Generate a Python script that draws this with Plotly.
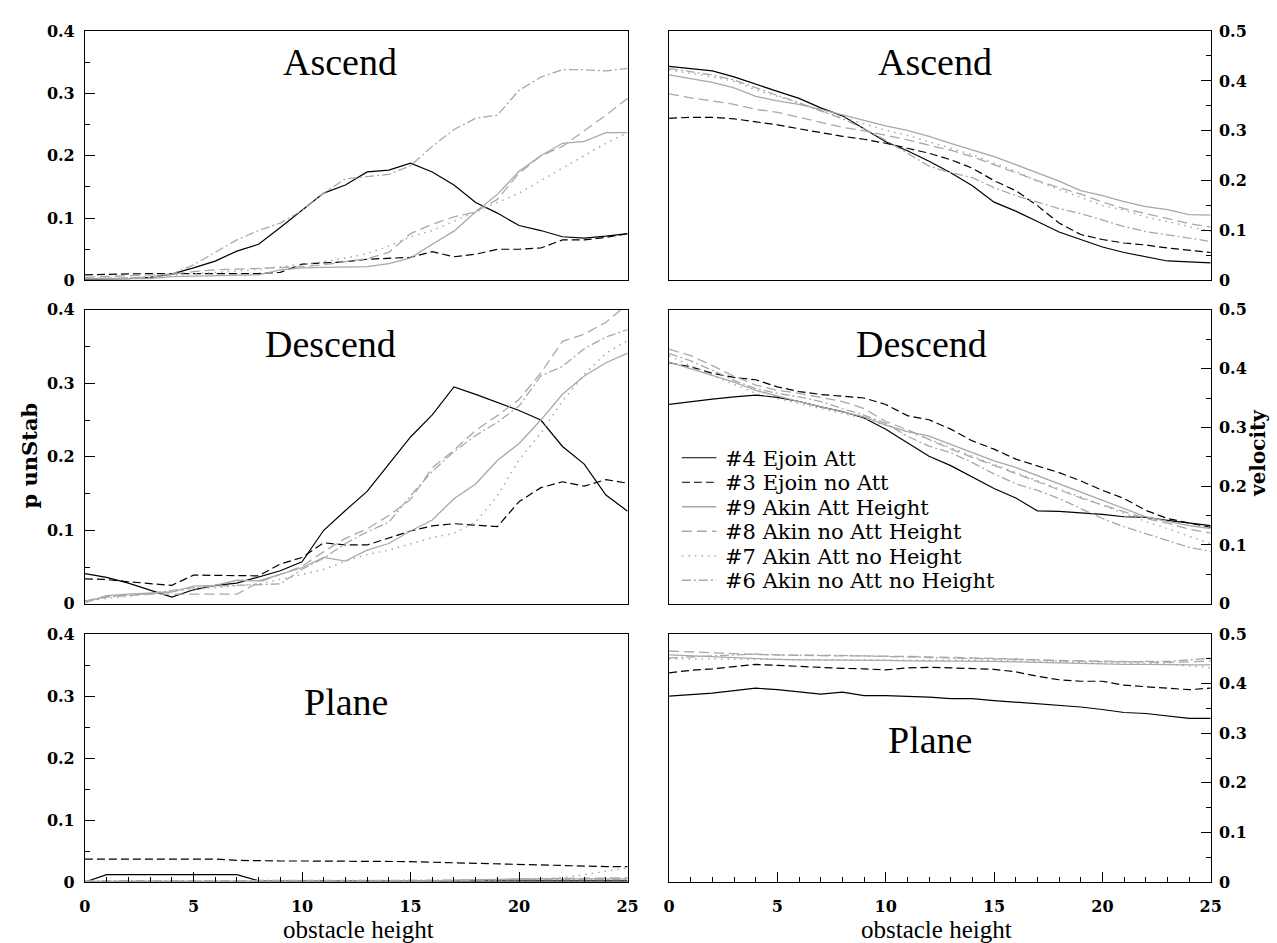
import plotly.graph_objects as go

W, H = 1277, 943

X = [0, 1, 2, 3, 4, 5, 6, 7, 8, 9, 10, 11, 12, 13, 14, 15, 16, 17, 18, 19, 20, 21, 22, 23, 24, 25]

SERIES_NAMES = ["#4 Ejoin Att", "#3 Ejoin no Att", "#9 Akin Att Height",
                "#8 Akin no Att Height", "#7 Akin Att no Height", "#6 Akin no Att no Height"]
PANEL_TITLES = ["Ascend", "Ascend", "Descend", "Descend", "Plane", "Plane"]
X_TICKS = [0, 5, 10, 15, 20, 25]
P_TICKS = [0, 0.1, 0.2, 0.3, 0.4]
P_TICKTEXT = ["0", "0.1", "0.2", "0.3", "0.4"]
V_TICKS = [0, 0.1, 0.2, 0.3, 0.4, 0.5]
V_TICKTEXT = ["0", "0.1", "0.2", "0.3", "0.4", "0.5"]

# ---- Ascend, p unStab
A_P4 = [0.002,0.002,0.003,0.005,0.010,0.020,0.031,0.047,0.058,0.085,0.113,0.140,0.153,0.174,0.177,0.188,0.174,0.153,0.125,0.108,0.088,0.080,0.070,0.068,0.071,0.075]
A_P3 = [0.009,0.010,0.010,0.011,0.011,0.011,0.011,0.011,0.011,0.013,0.026,0.028,0.030,0.034,0.036,0.037,0.046,0.038,0.042,0.050,0.050,0.052,0.065,0.065,0.069,0.075]
A_P9 = [0.003,0.003,0.003,0.003,0.006,0.007,0.008,0.008,0.009,0.017,0.020,0.021,0.021,0.022,0.027,0.036,0.058,0.079,0.110,0.138,0.175,0.200,0.220,0.223,0.237,0.237]
A_P8 = [0.005,0.006,0.007,0.008,0.010,0.014,0.017,0.018,0.019,0.020,0.022,0.025,0.030,0.035,0.045,0.075,0.090,0.102,0.110,0.130,0.172,0.200,0.215,0.240,0.265,0.292]
A_P7 = [0.003,0.003,0.004,0.006,0.008,0.010,0.012,0.015,0.018,0.022,0.027,0.030,0.036,0.043,0.055,0.070,0.080,0.095,0.110,0.125,0.140,0.160,0.180,0.200,0.220,0.237]
A_P6 = [0.003,0.003,0.004,0.005,0.010,0.025,0.045,0.065,0.080,0.092,0.112,0.140,0.163,0.166,0.170,0.184,0.215,0.242,0.260,0.265,0.305,0.326,0.338,0.338,0.336,0.340]

# ---- Ascend, velocity
A_V4 = [0.429,0.425,0.420,0.408,0.393,0.379,0.365,0.346,0.330,0.304,0.278,0.260,0.239,0.216,0.190,0.157,0.139,0.118,0.097,0.082,0.067,0.056,0.048,0.039,0.037,0.035]
A_V3 = [0.325,0.327,0.327,0.324,0.318,0.312,0.304,0.296,0.289,0.283,0.275,0.265,0.255,0.242,0.225,0.200,0.180,0.150,0.115,0.092,0.082,0.075,0.071,0.065,0.061,0.056]
A_V9 = [0.412,0.405,0.397,0.386,0.369,0.360,0.353,0.343,0.332,0.320,0.310,0.301,0.289,0.275,0.261,0.248,0.232,0.216,0.199,0.180,0.170,0.158,0.148,0.142,0.132,0.131]
A_V8 = [0.374,0.366,0.360,0.353,0.343,0.337,0.327,0.317,0.307,0.300,0.291,0.282,0.271,0.261,0.248,0.232,0.216,0.200,0.186,0.173,0.157,0.144,0.134,0.124,0.114,0.107]
A_V7 = [0.422,0.415,0.408,0.399,0.382,0.369,0.356,0.340,0.327,0.314,0.301,0.291,0.278,0.265,0.252,0.235,0.219,0.199,0.183,0.167,0.150,0.141,0.127,0.118,0.108,0.098]
A_V6 = [0.425,0.418,0.412,0.402,0.386,0.371,0.356,0.340,0.324,0.304,0.281,0.255,0.229,0.216,0.206,0.186,0.170,0.157,0.144,0.134,0.121,0.108,0.098,0.092,0.085,0.078]

# ---- Descend, p unStab
D_P4 = [0.041,0.036,0.028,0.019,0.009,0.019,0.025,0.028,0.037,0.045,0.057,0.100,0.127,0.153,0.190,0.227,0.257,0.295,0.285,0.274,0.263,0.250,0.214,0.190,0.148,0.126]
D_P3 = [0.034,0.033,0.030,0.028,0.025,0.039,0.039,0.038,0.038,0.054,0.063,0.083,0.080,0.080,0.089,0.099,0.106,0.109,0.107,0.105,0.139,0.158,0.166,0.160,0.169,0.164]
D_P9 = [0.002,0.011,0.013,0.014,0.016,0.024,0.025,0.032,0.031,0.040,0.049,0.063,0.058,0.073,0.082,0.099,0.114,0.143,0.163,0.195,0.218,0.250,0.285,0.310,0.328,0.341]
D_P8 = [0.004,0.010,0.011,0.013,0.013,0.013,0.013,0.013,0.029,0.040,0.051,0.071,0.089,0.102,0.120,0.142,0.185,0.209,0.236,0.256,0.278,0.314,0.357,0.367,0.383,0.408]
D_P7 = [0.004,0.007,0.011,0.013,0.017,0.020,0.022,0.024,0.027,0.033,0.040,0.047,0.058,0.067,0.073,0.082,0.090,0.096,0.111,0.147,0.196,0.232,0.276,0.312,0.341,0.358]
D_P6 = [0.002,0.009,0.012,0.014,0.018,0.022,0.024,0.025,0.026,0.027,0.047,0.062,0.082,0.098,0.111,0.147,0.180,0.207,0.229,0.247,0.269,0.310,0.323,0.347,0.363,0.373]

# ---- Descend, velocity
D_V4 = [0.339,0.344,0.348,0.352,0.355,0.351,0.344,0.335,0.327,0.316,0.297,0.274,0.251,0.235,0.215,0.196,0.180,0.158,0.157,0.155,0.152,0.148,0.147,0.142,0.138,0.133]
D_V3 = [0.410,0.403,0.392,0.385,0.381,0.369,0.361,0.356,0.353,0.350,0.339,0.320,0.313,0.297,0.277,0.263,0.246,0.235,0.223,0.209,0.193,0.179,0.159,0.145,0.137,0.130]
D_V9 = [0.411,0.400,0.388,0.377,0.363,0.353,0.344,0.335,0.327,0.318,0.304,0.293,0.285,0.271,0.257,0.243,0.232,0.218,0.204,0.190,0.176,0.162,0.148,0.140,0.133,0.128]
D_V8 = [0.433,0.422,0.405,0.387,0.372,0.363,0.358,0.351,0.344,0.332,0.310,0.296,0.279,0.263,0.249,0.235,0.221,0.207,0.193,0.180,0.168,0.156,0.145,0.137,0.127,0.120]
D_V7 = [0.422,0.405,0.388,0.373,0.358,0.349,0.340,0.332,0.324,0.315,0.304,0.293,0.280,0.265,0.251,0.237,0.223,0.209,0.196,0.182,0.168,0.154,0.140,0.128,0.115,0.102]
D_V6 = [0.426,0.413,0.397,0.380,0.366,0.358,0.352,0.344,0.332,0.321,0.307,0.285,0.268,0.257,0.240,0.221,0.204,0.193,0.179,0.162,0.145,0.131,0.119,0.107,0.096,0.089]

# ---- Plane, p unStab
P_P4 = [0.000,0.012,0.012,0.012,0.012,0.012,0.012,0.012,0.002,0.002,0.002,0.002,0.002,0.002,0.002,0.002,0.002,0.002,0.002,0.002,0.002,0.002,0.002,0.002,0.002,0.002]
P_P3 = [0.037,0.037,0.037,0.037,0.037,0.037,0.037,0.035,0.034,0.034,0.034,0.034,0.034,0.034,0.033,0.033,0.032,0.031,0.030,0.029,0.029,0.028,0.027,0.026,0.025,0.025]
P_P9 = [0.001,0.001,0.001,0.001,0.001,0.001,0.001,0.001,0.001,0.001,0.001,0.001,0.001,0.001,0.001,0.001,0.002,0.003,0.004,0.005,0.005,0.005,0.005,0.005,0.005,0.005]
P_P8 = [0.001,0.001,0.001,0.001,0.001,0.001,0.001,0.001,0.001,0.001,0.001,0.001,0.001,0.001,0.001,0.001,0.001,0.002,0.003,0.004,0.005,0.006,0.006,0.006,0.007,0.007]
P_P7 = [0.000,0.000,0.000,0.000,0.000,0.000,0.000,0.000,0.000,0.000,0.000,0.000,0.000,0.001,0.001,0.001,0.002,0.002,0.003,0.003,0.004,0.005,0.007,0.012,0.018,0.023]
P_P6 = [0.002,0.002,0.002,0.002,0.002,0.002,0.002,0.002,0.002,0.002,0.002,0.002,0.002,0.002,0.002,0.002,0.003,0.003,0.004,0.004,0.004,0.004,0.004,0.004,0.004,0.004]

# ---- Plane, velocity
P_V4 = [0.375,0.378,0.381,0.386,0.391,0.388,0.383,0.379,0.383,0.376,0.376,0.375,0.373,0.370,0.370,0.366,0.363,0.359,0.356,0.353,0.348,0.342,0.340,0.335,0.330,0.330]
P_V3 = [0.422,0.427,0.430,0.435,0.439,0.437,0.435,0.432,0.431,0.430,0.428,0.432,0.433,0.432,0.430,0.429,0.424,0.415,0.408,0.405,0.405,0.397,0.394,0.391,0.388,0.391]
P_V9 = [0.458,0.456,0.454,0.452,0.450,0.449,0.448,0.448,0.447,0.447,0.447,0.446,0.446,0.446,0.445,0.445,0.444,0.443,0.442,0.440,0.440,0.439,0.439,0.438,0.438,0.438]
P_V8 = [0.466,0.464,0.462,0.460,0.459,0.458,0.457,0.457,0.456,0.456,0.456,0.455,0.454,0.453,0.452,0.452,0.450,0.448,0.447,0.446,0.445,0.444,0.443,0.443,0.444,0.446]
P_V7 = [0.450,0.450,0.450,0.449,0.449,0.449,0.449,0.448,0.448,0.448,0.448,0.448,0.447,0.447,0.447,0.447,0.446,0.445,0.444,0.443,0.443,0.442,0.441,0.440,0.436,0.432]
P_V6 = [0.452,0.454,0.455,0.457,0.460,0.458,0.458,0.457,0.457,0.456,0.455,0.454,0.453,0.452,0.452,0.451,0.449,0.448,0.446,0.445,0.444,0.444,0.445,0.445,0.448,0.452]

PANELS = [
    [A_P4, A_P3, A_P9, A_P8, A_P7, A_P6],
    [A_V4, A_V3, A_V9, A_V8, A_V7, A_V6],
    [D_P4, D_P3, D_P9, D_P8, D_P7, D_P6],
    [D_V4, D_V3, D_V9, D_V8, D_V7, D_V6],
    [P_P4, P_P3, P_P9, P_P8, P_P7, P_P6],
    [P_V4, P_V3, P_V9, P_V8, P_V7, P_V6],
]

GRAY = "#a8a8a8"
STYLES = [
    dict(color="black", dash="solid", width=1.2),
    dict(color="black", dash="8px,4px", width=1.2),
    dict(color=GRAY, dash="solid", width=1.3),
    dict(color=GRAY, dash="10px,5px", width=1.3),
    dict(color=GRAY, dash="1.5px,5px", width=1.5),
    dict(color=GRAY, dash="9px,3px,2px,3px", width=1.3),
]


def px_x(px):
    return px / W


def px_y(py):
    return 1 - py / H


# panel pixel boxes (left, right, top, bottom)
COL_X = [(80, 630), (672, 1221)]
ROW_Y = [(22.5, 277), (307, 607), (638, 891)]

fig = go.Figure()

TICKFONT = dict(family="DejaVu Serif", size=16, color="black", weight="bold")

for p in range(6):
    row, col = divmod(p, 2)
    ax = p + 1
    xname = "xaxis" if ax == 1 else f"xaxis{ax}"
    yname = "yaxis" if ax == 1 else f"yaxis{ax}"
    xref = "x" if ax == 1 else f"x{ax}"
    yref = "y" if ax == 1 else f"y{ax}"
    for s in range(6):
        fig.add_trace(go.Scatter(
            x=X, y=PANELS[p][s], mode="lines", line=STYLES[s],
            name=SERIES_NAMES[s], showlegend=False, xaxis=xref, yaxis=yref,
            hoverinfo="skip"))

    x0, x1 = COL_X[col]
    y0, y1 = ROW_Y[row]
    xa = dict(domain=[px_x(x0), px_x(x1)], range=[0, 25], anchor=yref,
              showline=True, linecolor="black", linewidth=1, mirror=True,
              showgrid=False, zeroline=False, fixedrange=True)
    if row == 2:
        xa.update(tickvals=X_TICKS, ticktext=[str(v) for v in X_TICKS],
                  ticks="inside", ticklen=10, tickwidth=1, tickcolor="black",
                  tickfont=TICKFONT, ticklabelstandoff=10,
                  minor=dict(tickvals=[v for v in X if v % 5 != 0], ticks="inside",
                             ticklen=5, tickwidth=1, tickcolor="black"))
    else:
        xa.update(showticklabels=False, ticks="")
    ya = dict(domain=[px_y(y1), px_y(y0)], anchor=xref,
              showline=True, linecolor="black", linewidth=1, mirror=True,
              showgrid=False, zeroline=False, fixedrange=True,
              ticks="inside", ticklen=10, tickwidth=1, tickcolor="black",
              tickfont=TICKFONT)
    if col == 0:
        ya.update(range=[0, 0.4], tickvals=P_TICKS, ticktext=P_TICKTEXT, side="left",
                  ticklabelstandoff=6,
                  minor=dict(tickvals=[0.05, 0.15, 0.25, 0.35], ticks="inside",
                             ticklen=5, tickwidth=1, tickcolor="black"))
    else:
        ya.update(range=[0, 0.5], tickvals=V_TICKS, ticktext=V_TICKTEXT, side="right",
                  ticklabelstandoff=4,
                  minor=dict(tickvals=[0.05, 0.15, 0.25, 0.35, 0.45], ticks="inside",
                             ticklen=5, tickwidth=1, tickcolor="black"))
    fig.layout[xname] = xa
    fig.layout[yname] = ya

annotations = []
TITLE_POS = [(339, 54), (942, 54), (329, 342), (928, 342), (345, 707), (936, 746)]
for p, (tx, ty) in enumerate(TITLE_POS):
    annotations.append(dict(text=PANEL_TITLES[p], x=px_x(tx), y=px_y(ty), xref="paper",
                            yref="paper", xanchor="center", yanchor="middle", showarrow=False,
                            font=dict(family="Liberation Serif", size=38, color="black")))

# axis titles
annotations.append(dict(text="p unStab", x=px_x(24), y=px_y(456), xref="paper", yref="paper",
                        textangle=-90, showarrow=False, xanchor="center", yanchor="middle",
                        font=dict(family="DejaVu Serif", size=21, color="black", weight="bold")))
annotations.append(dict(text="velocity", x=px_x(1269), y=px_y(453), xref="paper", yref="paper",
                        textangle=-90, showarrow=False, xanchor="center", yanchor="middle",
                        font=dict(family="DejaVu Serif", size=20, color="black", weight="bold")))
for cx, cy in [(357, 939), (943, 939)]:
    annotations.append(dict(text="obstacle height", x=px_x(cx), y=px_y(cy), xref="paper",
                            yref="paper", showarrow=False, xanchor="center", yanchor="middle",
                            font=dict(family="Liberation Serif", size=25, color="black")))

# legend (drawn manually inside the Descend velocity panel)
shapes = []
LEG_X0, LEG_X1, LEG_TX = 685, 720, 727
for s in range(6):
    ly = 458 + 25 * s
    shapes.append(dict(type="line", xref="paper", yref="paper",
                       x0=px_x(LEG_X0), x1=px_x(LEG_X1), y0=px_y(ly), y1=px_y(ly),
                       line=dict(color=STYLES[s]["color"], dash=STYLES[s]["dash"],
                                 width=STYLES[s]["width"])))
    annotations.append(dict(text=SERIES_NAMES[s], x=px_x(LEG_TX), y=px_y(ly + 1), xref="paper",
                            yref="paper", showarrow=False, xanchor="left", yanchor="middle",
                            font=dict(family="DejaVu Serif", size=21, color="black")))

fig.update_layout(width=W, height=H, margin=dict(l=0, r=0, t=0, b=0, pad=0),
                  paper_bgcolor="white", plot_bgcolor="white", showlegend=False,
                  annotations=annotations, shapes=shapes)

fig.write_html("out.html")
